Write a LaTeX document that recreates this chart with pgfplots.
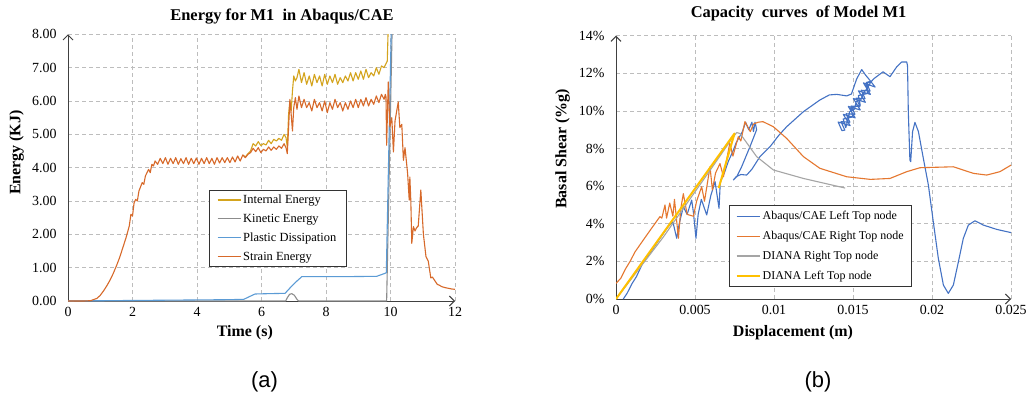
\documentclass[border=0pt]{standalone}
\usepackage{fontspec}
\setmainfont{Liberation Serif}
\newfontfamily\arialfont{Liberation Sans}
\usepackage{pgfplots}
\pgfplotsset{compat=1.18}
\usetikzlibrary{arrows.meta}
\definecolor{cInt}{HTML}{D4A41E}
\definecolor{cKin}{HTML}{8C8C8C}
\definecolor{cPla}{HTML}{5B9BD5}
\definecolor{cStr}{HTML}{D7692A}
\definecolor{cBlue}{HTML}{4472C4}
\definecolor{cOra}{HTML}{E5772F}
\definecolor{cGra}{HTML}{A5A5A5}
\definecolor{cYel}{HTML}{FFC000}
\pgfplotsset{
  myaxis/.style={
    scale only axis,
    axis x line=bottom, axis y line=left,
    axis line style={draw=black!75, line width=1pt, -{Straight Barb[length=5bp,width=10bp]}},
    grid=major,
    major grid style={draw=black!26, dash pattern=on 4bp off 3bp, line width=0.8pt},
    major tick length=0pt,
    tick label style={font=\fontsize{14}{16}\selectfont},
    yticklabel style={xshift=-8bp},
    xticklabel style={yshift=-3bp},
    label style={font=\bfseries\fontsize{16}{18}\selectfont},
    title style={font=\bfseries\fontsize{16.5}{18}\selectfont},
    /pgf/number format/assume math mode=true,
    every axis plot/.append style={line width=1.1pt, line join=round, mark=none},
    legend cell align=left,
    legend image code/.code={\draw[##1] (0bp,0bp) -- (23bp,0bp);},
  }
}
\begin{document}
\begin{tikzpicture}[x=1bp,y=1bp]
\useasboundingbox (0,0) rectangle (1026,393);
\fill[white] (0,0) rectangle (1026,393);
% ---------------- (a) ----------------
\begin{axis}[myaxis,
  at={(68bp,92bp)}, anchor=south west,
  width=387bp, height=266.7bp,
  xmin=0, xmax=12, ymin=0, ymax=8,
  xtick={0,2,4,6,8,10,12},
  ytick={0,1,2,3,4,5,6,7,8},
  yticklabels={0.00,1.00,2.00,3.00,4.00,5.00,6.00,7.00,8.00},
  title={Energy for M1\ \ in Abaqus/CAE},
  title style={at={(axis description cs:0.553,1.046)}, anchor=center},
  xlabel={Time (s)},
  xlabel style={at={(axis description cs:0.457,-0.12)}, anchor=center},
  ylabel={Energy (KJ)},
  ylabel style={at={(axis description cs:-0.1326,0.556)}, anchor=center},
  legend style={at={(axis description cs:0.3636,0.418)}, anchor=north west,
    font=\fontsize{12.5}{14}\selectfont, draw=black!80, line width=0.8pt,
    inner xsep=8bp, inner ysep=3bp, row sep=5bp},
]
\addplot[cInt] coordinates {
(5.42,4.38)(5.5,4.32)(5.58,4.42)(5.66,4.5)(5.74,4.72)(5.82,4.65)(5.9,4.78)(5.98,4.66)(6.06,4.72)(6.14,4.68)(6.22,4.82)(6.3,4.72)(6.38,4.85)(6.46,4.8)(6.54,4.88)(6.62,4.82)(6.7,5.0)(6.76,4.9)(6.8,4.62)(6.84,5.6)(6.88,6.0)(6.92,5.7)(6.96,6.3)(7.0,6.75)(7.05,6.6)(7.1,6.7)(7.16,6.95)(7.24,6.55)(7.32,6.85)(7.4,6.5)(7.48,6.75)(7.56,6.45)(7.64,6.8)(7.72,6.55)(7.8,6.75)(7.88,6.45)(7.96,6.8)(8.04,6.5)(8.12,6.75)(8.2,6.55)(8.28,6.8)(8.36,6.5)(8.44,6.7)(8.52,6.55)(8.6,6.75)(8.68,6.6)(8.76,6.85)(8.84,6.6)(8.92,6.85)(9.0,6.65)(9.08,6.9)(9.16,6.65)(9.24,6.95)(9.32,6.7)(9.4,6.85)(9.48,6.75)(9.56,7.0)(9.64,6.8)(9.72,7.05)(9.8,7.0)(9.86,7.12)(9.9,7.2)(9.94,8.6)
};
\addlegendentry{Internal Energy}
\addplot[cKin] coordinates {
(0,0)(6.75,0)(6.8,0.1)(6.87,0.2)(6.94,0.22)(7.02,0.17)(7.1,0.05)(7.15,0)(9.88,0)(10.06,8.6)
};
\addlegendentry{Kinetic Energy}
\addplot[cPla] coordinates {
(0,0)(2.5,0.02)(5.0,0.04)(5.45,0.05)(5.6,0.12)(5.8,0.21)(6.2,0.22)(6.73,0.23)(6.94,0.45)(7.1,0.6)(7.25,0.73)(8.5,0.73)(9.57,0.74)(9.83,0.83)(9.87,0.85)(10.02,8.0)(10.03,8.6)
};
\addlegendentry{Plastic Dissipation}
\addplot[cStr] coordinates {
(0,0)(0.5,0)(0.7,0.01)(0.9,0.08)(1.0,0.17)(1.1,0.3)(1.2,0.45)(1.3,0.62)(1.4,0.82)(1.5,1.05)(1.6,1.3)(1.7,1.6)(1.8,1.9)(1.9,2.25)(1.95,2.6)(2.0,2.55)(2.05,2.95)(2.1,3.05)(2.15,3.0)(2.2,3.3)(2.3,3.55)(2.35,3.5)(2.4,3.75)(2.5,3.95)(2.55,3.85)(2.6,4.1)(2.65,4.05)(2.7,4.2)(2.78,4.1)(2.86,4.28)(2.94,4.12)(3.02,4.3)(3.1,4.1)(3.18,4.28)(3.26,4.12)(3.34,4.3)(3.42,4.1)(3.5,4.27)(3.58,4.12)(3.66,4.3)(3.74,4.1)(3.82,4.28)(3.9,4.12)(3.98,4.29)(4.06,4.1)(4.14,4.28)(4.22,4.12)(4.3,4.3)(4.38,4.12)(4.46,4.28)(4.54,4.1)(4.62,4.3)(4.7,4.14)(4.78,4.3)(4.86,4.15)(4.94,4.3)(5.02,4.15)(5.1,4.32)(5.18,4.17)(5.26,4.35)(5.34,4.2)(5.42,4.38)(5.5,4.3)(5.58,4.4)(5.66,4.45)(5.74,4.58)(5.82,4.48)(5.9,4.6)(5.98,4.45)(6.06,4.55)(6.14,4.5)(6.22,4.62)(6.3,4.52)(6.38,4.62)(6.46,4.55)(6.54,4.65)(6.62,4.58)(6.7,4.72)(6.76,4.6)(6.8,4.42)(6.84,5.2)(6.88,6.05)(6.92,5.6)(6.96,5.1)(7.0,5.8)(7.05,6.1)(7.1,5.75)(7.16,6.15)(7.24,5.8)(7.32,6.05)(7.4,5.8)(7.48,5.95)(7.56,5.7)(7.64,6.05)(7.72,5.8)(7.8,5.95)(7.88,5.7)(7.96,6.0)(8.04,5.65)(8.12,5.95)(8.2,5.75)(8.28,6.05)(8.36,5.8)(8.44,5.95)(8.52,5.7)(8.6,5.95)(8.68,5.75)(8.76,6.0)(8.84,5.8)(8.92,6.05)(9.0,5.8)(9.08,6.05)(9.16,5.85)(9.24,6.1)(9.32,5.85)(9.4,6.05)(9.48,5.9)(9.56,6.15)(9.64,5.95)(9.72,6.2)(9.8,6.05)(9.84,6.2)(9.86,6.12)(9.88,4.67)(9.93,6.57)(9.98,5.22)(10.04,5.5)(10.09,4.47)(10.14,5.4)(10.24,5.97)(10.29,5.2)(10.35,5.3)(10.40,4.22)(10.45,4.6)(10.53,3.83)(10.58,3.03)(10.6,3.72)(10.63,3.0)(10.66,1.73)(10.71,2.23)(10.76,2.1)(10.81,2.2)(10.86,2.25)(10.94,3.33)(11.02,2.0)(11.10,1.33)(11.17,1.2)(11.25,0.69)(11.3,0.72)(11.38,0.6)(11.45,0.5)(11.52,0.47)(11.59,0.43)(11.7,0.4)(11.8,0.38)(11.9,0.36)(12.0,0.35)
};
\addlegendentry{Strain Energy}
\end{axis}
% ---------------- (b) ----------------
\begin{axis}[myaxis,
  at={(616bp,94bp)}, anchor=south west,
  width=395bp, height=263.3bp,
  xmin=0, xmax=0.025, ymin=0, ymax=14,
  scaled x ticks=false,
  xtick={0,0.005,0.01,0.015,0.02,0.025},
  xticklabels={0,0.005,0.01,0.015,0.02,0.025},
  ytick={0,2,4,6,8,10,12,14},
  yticklabels={0\%,2\%,4\%,6\%,8\%,10\%,12\%,14\%},
  title={Capacity\ \ curves\ \ of Model M1},
  title style={at={(axis description cs:0.462,1.063)}, anchor=center},
  xlabel={Displacement (m)},
  xlabel style={at={(axis description cs:0.448,-0.129)}, anchor=center},
  ylabel={Basal Shear (\%g)},
  ylabel style={at={(axis description cs:-0.135,0.57)}, anchor=center},
  legend style={at={(axis description cs:0.2868,0.357)}, anchor=north west,
    font=\fontsize{12}{14}\selectfont, draw=black!80, line width=0.8pt,
    inner xsep=6bp, inner ysep=4bp, row sep=6bp},
]
\addplot[cBlue] coordinates {
(0.00046,0)(0.0007,0.3)(0.001,0.8)(0.0013,1.2)(0.00173,1.98)(0.0022,2.5)(0.00278,3.22)(0.0033,3.85)(0.0036,4.1)(0.00384,3.23)(0.0040,4.0)(0.00426,4.9)(0.0045,4.5)(0.00479,5.26)(0.0049,4.6)(0.00506,3.23)(0.0052,4.5)(0.0054,5.3)(0.00574,4.47)(0.0060,5.5)(0.00627,6.24)(0.0064,5.5)(0.00652,4.82)(0.0066,6.2)(0.0069,6.8)(0.0071,7.3)(0.00743,7.92)(0.0076,8.3)(0.0078,8.6)(0.0080,8.9)(0.0082,9.4)(0.0084,9.0)(0.0086,9.4)(0.0087,8.9)(0.0088,9.4)(0.0089,9.0)(0.00848,8.1)(0.00795,7.03)(0.00764,6.5)(0.00743,6.33)(0.0076,6.5)(0.0079,6.62)(0.00827,6.59)(0.0086,6.9)(0.00911,7.57)(0.00975,8.1)(0.0103,8.7)(0.0108,9.16)(0.01186,9.96)(0.0129,10.58)(0.0135,10.85)(0.01397,10.88)(0.0146,10.8)(0.0149,10.9)(0.01523,11.7)(0.01555,12.2)(0.0158,11.9)(0.0160,11.7)
(0.0164,11.27)(0.01566,11.49)(0.0161,10.88)(0.01534,11.07)(0.01578,10.46)(0.01502,10.66)(0.01546,10.05)(0.0147,10.24)(0.01514,9.63)(0.01438,9.82)(0.01482,9.22)(0.01406,9.41)(0.0143,8.95)
(0.01448,8.98)(0.01424,9.43)(0.0148,9.40)(0.01456,9.85)(0.01512,9.82)(0.01488,10.26)(0.01544,10.23)(0.0152,10.68)(0.01576,10.65)(0.01552,11.10)(0.01608,11.06)(0.01584,11.51)(0.0162,11.6)
(0.01582,11.44)(0.01594,10.93)(0.01534,10.82)(0.01546,10.30)(0.01486,10.19)(0.01498,9.68)(0.01438,9.57)(0.01454,9.11)
(0.0147,9.6)(0.01478,9.95)(0.0151,10.1)(0.0152,10.5)(0.0155,10.6)(0.0157,11.0)(0.0159,11.2)(0.0161,11.5)(0.0163,11.7)
(0.0169,12.08)(0.01734,11.82)(0.01777,12.35)(0.01808,12.6)(0.0184,12.6)(0.01845,12.4)(0.0185,9.96)(0.0186,7.39)(0.01865,7.3)(0.01877,8.9)(0.01892,9.39)(0.01914,8.9)(0.01945,7.48)(0.01977,6.06)(0.02008,4.11)(0.0204,2.16)(0.02072,0.74)(0.02103,0.3)(0.02135,0.74)(0.02167,1.98)(0.02198,3.22)(0.0223,3.93)(0.02272,4.16)(0.02325,3.93)(0.0241,3.7)(0.025,3.53)
};
\addlegendentry{Abaqus/CAE Left Top node}
\addplot[cOra] coordinates {
(0,0.83)(0.0003,1.1)(0.0006,1.6)(0.00089,2.0)(0.0012,2.5)(0.00173,3.14)(0.0022,3.7)(0.00278,4.38)(0.0029,4.3)(0.0031,5.0)(0.0032,4.3)(0.0034,5.1)(0.0036,4.4)(0.0037,5.3)(0.00395,3.23)(0.0041,4.8)(0.00426,5.6)(0.0045,4.5)(0.0049,4.4)(0.0051,5.2)(0.00542,5.97)(0.0056,5.2)(0.00595,7.03)(0.0061,5.8)(0.0063,6.7)(0.00658,7.2)(0.0068,6.5)(0.0072,8.28)(0.0074,7.6)(0.00774,8.63)(0.0079,8.4)(0.00816,9.43)(0.0085,8.9)(0.0087,9.3)(0.009,9.4)(0.0093,9.43)(0.00996,9.16)(0.0108,8.54)(0.01186,7.57)(0.0129,6.95)(0.0146,6.5)(0.0161,6.36)(0.01734,6.41)(0.0184,6.77)(0.01924,6.98)(0.02135,7.03)(0.02262,6.68)(0.02346,6.59)(0.0243,6.77)(0.025,7.12)
};
\addlegendentry{Abaqus/CAE Right Top node}
\addplot[cGra] coordinates {
(0,0)(0.003,3.3)(0.006,6.9)(0.0074,8.6)(0.00764,8.85)(0.00785,8.8)(0.0089,7.57)(0.00996,6.86)(0.01186,6.41)(0.0145,5.9)
};
\addlegendentry{DIANA Right Top node}
\addplot[cYel, line width=2pt] coordinates {
(0,0)(0.0075,8.8)(0.0065,5.9)
};
\addlegendentry{DIANA Left Top node}
\end{axis}
\node[font=\arialfont\fontsize{22}{24}\selectfont] at (264.5,11.3) {(a)};
\node[font=\arialfont\fontsize{22}{24}\selectfont] at (818,11.3) {(b)};
\end{tikzpicture}
\end{document}
